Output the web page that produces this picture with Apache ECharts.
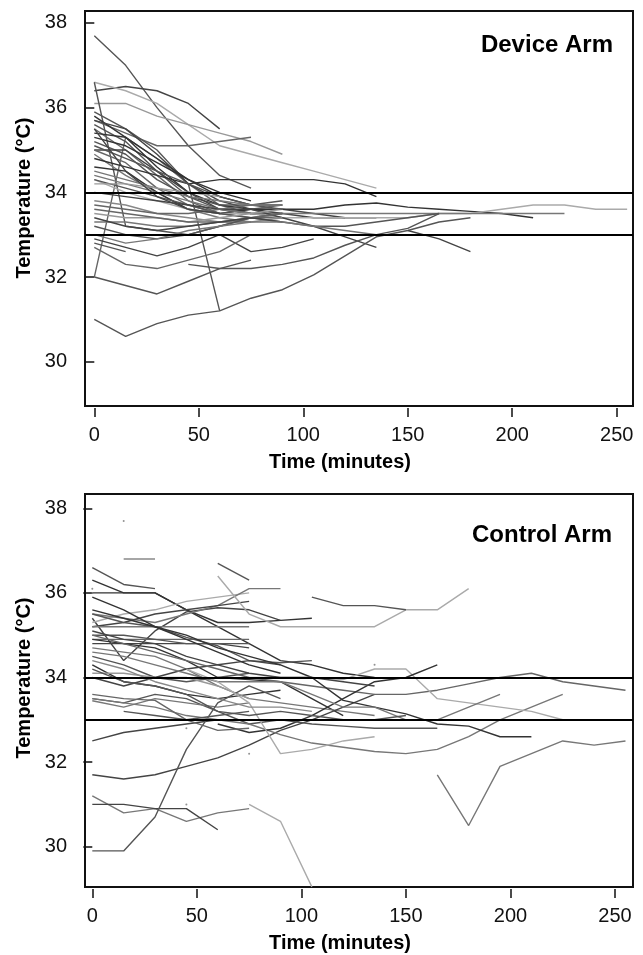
<!DOCTYPE html>
<html>
<head>
<meta charset="utf-8">
<script src="https://cdn.jsdelivr.net/npm/echarts@6.0.0/dist/echarts.min.js"></script>
<style>
html,body{margin:0;padding:0;background:#fff;}
#chart{width:643px;height:955px;}
</style>
</head>
<body>
<div id="chart"></div>
<script>
// ---- data ----
const times = [0,15,30,45,60,75,90,105,120,135,150,165,180,195,210,225,240,255];
const xTicks = [0,50,100,150,200,250];
const yTicks = [30,32,34,36,38];
const targetBand = [34,33];

// Device arm (each array aligned with `times`; null = no reading)
const dev01 = [37.7,37.0,36.0,35.1,34.4,34.1];
const dev02 = [36.4,36.5,36.4,36.1,35.5];
const dev03 = [36.6,36.4,36.1,35.6,35.1,34.9,34.7,34.5,34.3,34.1];
const dev04 = [36.1,36.1,35.8,35.6,35.4,35.2,34.9];
const dev05 = [35.7,35.4,35.1,35.1,35.2,35.3];
const dev06 = [36.6,33.2,33.1,33.0,33.2,33.4];
const dev07 = [32.0,35.3,34.8,34.2,33.7,33.5,33.4];
const dev08 = [35.9,35.5,35.0,34.2,31.2];
const dev09 = [35.8,35.3,34.6,34.0,33.7,33.6,33.5];
const dev10 = [35.7,35.5,34.9,34.2,33.8,33.6,33.6,33.5,33.4];
const dev11 = [35.6,35.2,34.5,33.9,33.6,33.5];
const dev12 = [35.5,35.0,34.4,33.8,33.5,33.4,33.4];
const dev13 = [35.4,35.3,34.8,34.3,33.9,33.7,33.7];
const dev14 = [35.2,34.9,34.3,33.9,33.7,33.7,33.8];
const dev15 = [35.0,35.0,34.5,34.0,33.6,33.5,33.5,33.4,33.4,33.4];
const dev16 = [35.0,34.7,34.1,33.7,33.5,33.6,33.7];
const dev17 = [34.9,34.4,34.0,33.6,33.4,33.3];
const dev18 = [34.8,34.6,34.4,34.2,34.3,34.3,34.3,34.3,34.2,33.9];
const dev19 = [34.6,34.5,34.0,33.6,33.5,33.6,33.6,33.6,33.7,33.75,33.65,33.6,33.55,33.5,33.4];
const dev20 = [34.3,34.0,33.8,33.6,33.5,33.5,33.4,33.4,33.4,33.4,33.4,33.5,33.5,33.6,33.7,33.7,33.6,33.6];
const dev21 = [34.4,34.2,34.0,33.8,33.6,33.5,33.5,33.5,33.5,33.5,33.5,33.5,33.5,33.5,33.5,33.5];
const dev22 = [34.3,34.1,33.9,33.7,33.5,33.4,33.3,33.2,33.2,33.3,33.4,33.5];
const dev23 = [34.0,33.9,33.8,33.7,33.6,33.6,33.4,33.2,32.95,32.7];
const dev24 = [33.8,33.7,33.5,33.4,33.3,33.3,33.4];
const dev25 = [33.7,33.6,33.5,33.5,33.6,33.7];
const dev26 = [33.5,33.4,33.4,33.3,33.4,33.5,33.6];
const dev27 = [33.3,33.3,33.2,33.2,33.3,33.3];
const dev28 = [33.2,33.0,32.9,33.0,33.2,33.4,33.5];
const dev29 = [32.9,32.7,32.5,32.7,33.0,32.6,32.7,32.9];
const dev30 = [32.7,32.3,32.2,32.4,32.6,33.0];
const dev31 = [32.0,31.8,31.6,31.9,32.2,32.4];
const dev32 = [31.0,30.6,30.9,31.1,31.2,31.5,31.7,32.05,32.5,32.95,33.1,33.3,33.4];
const dev33 = [32.8,32.6];
const dev34 = [null,null,null,null,null,null,null,null,null,null,33.1,32.9,32.6];
const dev35 = [null,null,null,32.3,32.2,32.2,32.3,32.45,32.75,33.0,33.15,33.5];
const dev36 = [35.3,35.1,34.7,34.3,34.0,33.8];
const dev37 = [35.1,34.8,34.5,34.2,33.9,33.7,33.6];
const dev38 = [34.5,34.3,34.1,33.9,33.8,33.7,33.7];
const dev39 = [34.2,34.2,34.1,34.0,33.9];
const dev40 = [33.6,33.5,33.4,33.3,33.3,33.4,33.5];
const dev41 = [33.4,33.2,33.1,33.2,33.3,33.4,33.3];
const dev42 = [35.5,34.5,33.9,33.6,33.5];
const dev43 = [33.0,32.8,32.9,33.1,33.2,33.3,33.3,33.2,33.1,33.0];

// Control arm
const ctl01 = [36.6,36.2,36.1];
const ctl02 = [36.3,36.0,36.0,35.6,35.2,34.8,34.4,34.3,34.1,34.0];
const ctl03 = [36.0,36.0,36.0,35.6,35.3,35.3,35.35,35.4];
const ctl04 = [35.4,34.4,35.1,35.55,35.65,35.6,35.35];
const ctl05 = [35.3,35.5,35.6,35.8,35.9,36.0];
const ctl06 = [35.5,35.4,35.3,35.5,35.7,36.1,36.1];
const ctl07 = [35.2,35.3,35.5,35.6,35.7,35.8];
const ctl08 = [34.9,34.9,34.9,34.9,34.9,34.9];
const ctl09 = [34.8,34.8,34.8,34.8,34.8,34.7];
const ctl10 = [35.2,35.2,35.2,35.2,35.2,35.2];
const ctl11 = [35.0,35.0,34.9,34.8,34.8,34.8];
const ctl12 = [null,null,null,null,36.7,36.3];
const ctl13 = [null,null,null,null,36.4,35.5,35.2,35.2,35.2,35.2,35.6,35.6,36.1];
const ctl14 = [null,null,null,null,null,null,null,35.9,35.7,35.7,35.6];
const ctl15 = [null,36.8,36.8];
const ctl16 = [35.5,35.3,35.2,34.95,34.75,34.4,34.35,34.4];
const ctl17 = [34.9,34.8,34.7,34.4,34.0,33.95,33.9,33.5,33.1];
const ctl18 = [34.7,34.6,34.5,34.2,33.8,33.5,33.4,33.3,33.2,33.1];
const ctl19 = [34.5,34.3,34.0,33.9,34.0,34.1];
const ctl20 = [34.3,33.9,33.8,33.6,33.5,33.6,33.7];
const ctl21 = [34.1,34.1,34.0,34.0,33.8,33.5];
const ctl22 = [34.0,33.8,34.0,34.2,34.3,34.4,34.3];
const ctl23 = [33.5,33.4,33.6,33.5,33.2,32.9,33.0];
const ctl24 = [33.45,33.3,33.5,33.4,33.3,33.4];
const ctl25 = [32.5,32.7,32.8,32.9,33.0,33.0];
const ctl26 = [31.7,31.6,31.7,31.9,32.1,32.4,32.75,33.0,33.3,33.6];
const ctl27 = [31.2,30.8,30.9,30.6,30.8,30.9];
const ctl28 = [31.0,31.0,30.9,30.9,30.4];
const ctl29 = [29.9,29.9,30.7,32.3,33.4,33.8,33.5];
const ctl30 = [null,null,null,null,null,31.0,30.6,29.05];
const ctl31 = [null,null,null,null,null,null,null,null,null,null,null,31.7,30.5,31.9,32.2,32.5,32.4,32.5];
const ctl32 = [33.5,33.4,33.3,33.1,33.0,32.9,32.65,32.45,32.35,32.25,32.2,32.3,32.6,33.0,33.3,33.6];
const ctl33 = [35.0,34.8,34.6,34.4,34.2,34.0,33.9,33.8,33.7,33.6,33.6,33.7,33.85,34.0,34.1,33.9,33.8,33.7];
const ctl34 = [35.6,35.4,35.2,35.0,34.7,34.5,34.3,34.0,33.46,33.3,33.14,32.9,32.85,32.6,32.6];
const ctl35 = [null,null,null,null,null,34.0,34.0,34.0,33.95,34.2,34.2,33.5,33.4,33.3,33.2,33.0];
const ctl36 = [null,null,null,null,32.9,32.7,32.8,33.1,33.5,33.9,34.0,34.3];
const ctl37 = [34.6,34.5,34.3,34.1,33.9,33.9,33.9,33.6,33.3,33.3,33.0,33.0,33.3,33.6];
const ctl38 = [null,null,null,null,null,null,33.0,32.9,32.85,32.8,32.8,32.8];
const ctl39 = [null,null,null,34.2,33.9,33.4,32.2,32.3,32.5,32.6];
const ctl40 = [null,33.2,33.1,33.0,33.1,33.2];
const ctl41 = [33.6,33.5,33.46,33.0,32.75,32.8];
const ctl42 = [34.2,33.9,33.8,33.6,33.2,33.1,33.2,33.1,33.0,33.0,33.1];
const ctl43 = [35.1,34.9,34.8,34.5,34.3,34.1,34.0,34.0,33.9,33.8];
const ctl44 = [35.9,35.6,35.2,34.9,34.6,34.3,34.1];
const ctl45 = [34.4,34.2,33.9,33.7,33.5,33.3,33.3,33.2];
// single readings in the control arm
const ctlDotTimes = [15,0,0,45,45,75,135];
const ctlDotTemps = [37.7,36.1,36.0,32.8,31.0,32.2,34.3];

const devLines = [dev01,dev02,dev03,dev04,dev05,dev06,dev07,dev08,dev09,dev10,dev11,dev12,dev13,dev14,dev15,dev16,dev17,dev18,dev19,dev20,dev21,dev22,dev23,dev24,dev25,dev26,dev27,dev28,dev29,dev30,dev31,dev32,dev33,dev34,dev35,dev36,dev37,dev38,dev39,dev40,dev41,dev42,dev43];
const ctlLines = [ctl01,ctl02,ctl03,ctl04,ctl05,ctl06,ctl07,ctl08,ctl09,ctl10,ctl11,ctl12,ctl13,ctl14,ctl15,ctl16,ctl17,ctl18,ctl19,ctl20,ctl21,ctl22,ctl23,ctl24,ctl25,ctl26,ctl27,ctl28,ctl29,ctl30,ctl31,ctl32,ctl33,ctl34,ctl35,ctl36,ctl37,ctl38,ctl39,ctl40,ctl41,ctl42,ctl43,ctl44,ctl45];

// ---- styles ----
const devShades = ['#555','#444','#aaa','#999','#666','#555','#666','#555','#333','#444','#555','#666','#333','#555','#444','#666','#777','#333','#333','#aaa','#777','#555','#444','#888','#666','#999','#777','#555','#444','#666','#555','#555','#555','#444','#555','#333','#555','#777','#999','#666','#444','#444','#777'];
const ctlShades = ['#555','#333','#333','#444','#aaa','#777','#444','#666','#444','#777','#555','#555','#aaa','#555','#888','#555','#333','#777','#555','#333','#999','#444','#555','#777','#444','#444','#777','#444','#555','#aaa','#777','#777','#666','#333','#aaa','#333','#777','#555','#aaa','#555','#666','#555','#444','#333','#888'];

const FONT = 'Liberation Sans, Arial, Helvetica, sans-serif';

function toPairs(vals){
  const out = [];
  vals.forEach((v,i)=>{ if(v!==null && v!==undefined) out.push([times[i], v]); });
  return out;
}

function panelSeries(lines, shades, idx){
  const s = lines.map((vals,k)=>({
    type:'line', xAxisIndex: idx, yAxisIndex: idx,
    data: toPairs(vals), symbol:'none', silent:true, animation:false,
    lineStyle:{color: shades[k], width:1.4}, z:2
  }));
  s.push({
    type:'line', xAxisIndex: idx, yAxisIndex: idx, data: [], symbol:'none',
    silent:true, animation:false, z:5,
    markLine:{
      silent:true, symbol:['none','none'], label:{show:false},
      lineStyle:{color:'#000', width:2.2, type:'solid'},
      data: targetBand.map(v=>({yAxis:v}))
    }
  });
  return s;
}

function xAx(idx, min, max){
  return {
    type:'value', gridIndex: idx, min, max, offset:2,
    axisLine:{show:false}, splitLine:{show:false},
    axisTick:{show:true, length:9, customValues:xTicks, lineStyle:{color:'#111', width:1.5}},
    axisLabel:{customValues:xTicks, fontSize:20, color:'#111', margin:17, fontFamily:FONT}
  };
}
function yAx(idx, min, max){
  return {
    type:'value', gridIndex: idx, min, max, offset:2,
    axisLine:{show:false}, splitLine:{show:false},
    axisTick:{show:true, length:9, customValues:yTicks, lineStyle:{color:'#111', width:1.5}},
    axisLabel:{customValues:yTicks, fontSize:20, color:'#111', margin:16, fontFamily:FONT}
  };
}

const series = [].concat(panelSeries(devLines, devShades, 0), panelSeries(ctlLines, ctlShades, 1));
series.push({
  type:'scatter', xAxisIndex:1, yAxisIndex:1, silent:true, animation:false,
  symbol:'circle', symbolSize:2, itemStyle:{color:'#777'},
  data: ctlDotTimes.map((t,i)=>[t, ctlDotTemps[i]])
});

const titleFont = 'bold 20px ' + FONT;
const option = {
  backgroundColor:'#fff',
  animation:false,
  grid:[
    {left:85, top:11, width:548, height:395, show:true, borderColor:'#111', borderWidth:2, backgroundColor:'transparent'},
    {left:85, top:494, width:548, height:393, show:true, borderColor:'#111', borderWidth:2, backgroundColor:'transparent'}
  ],
  xAxis:[ xAx(0, -4.45, 257.8), xAx(1, -3.49, 258.6) ],
  yAxis:[ yAx(0, 28.954, 38.283), yAx(1, 29.047, 38.338) ],
  series,
  graphic:[
    {type:'text', x:613, y:45, z:10, style:{text:'Device Arm', font:'bold 24px '+FONT, fill:'#000', align:'right', verticalAlign:'middle'}},
    {type:'text', x:612, y:535, z:10, style:{text:'Control Arm', font:'bold 24px '+FONT, fill:'#000', align:'right', verticalAlign:'middle'}},
    {type:'text', x:340, y:462, z:10, style:{text:'Time (minutes)', font:titleFont, fill:'#000', align:'center', verticalAlign:'middle'}},
    {type:'text', x:340, y:943, z:10, style:{text:'Time (minutes)', font:titleFont, fill:'#000', align:'center', verticalAlign:'middle'}},
    {type:'text', x:24, y:198, rotation:Math.PI/2, z:10, style:{text:'Temperature (°C)', font:titleFont, fill:'#000', align:'center', verticalAlign:'middle'}},
    {type:'text', x:24, y:678, rotation:Math.PI/2, z:10, style:{text:'Temperature (°C)', font:titleFont, fill:'#000', align:'center', verticalAlign:'middle'}}
  ]
};

const chart = echarts.init(document.getElementById('chart'), null, {renderer:'canvas'});
chart.setOption(option);
</script>
</body>
</html>
